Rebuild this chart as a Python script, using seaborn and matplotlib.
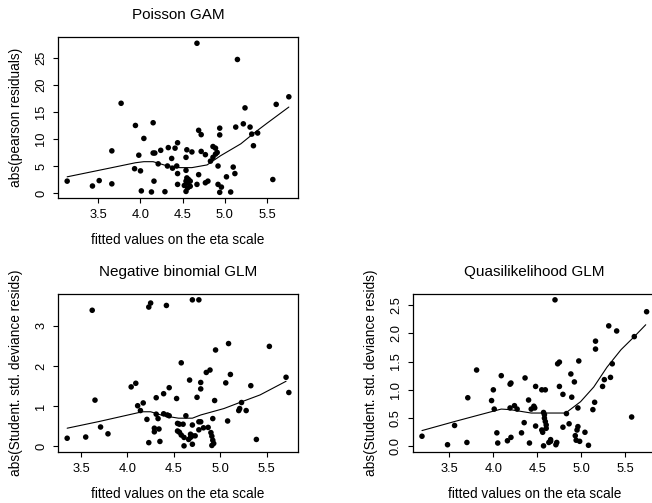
import matplotlib
matplotlib.use("Agg")
import matplotlib.pyplot as plt
import seaborn as sns
import pandas as pd

# ---------------- data ----------------
# Poisson GAM
pg_x = [3.13, 3.43, 3.51, 3.66, 3.66, 3.77, 3.94, 4.15, 4.04, 3.98, 3.93, 4.00, 4.01, 4.13, 4.29,
        4.15, 4.17, 4.16, 4.24, 4.21, 4.33, 4.37, 4.32, 4.38, 4.41, 4.44, 4.43, 4.44, 4.44,
        4.67, 5.15, 5.76, 5.61, 5.24, 5.22, 5.13, 5.30, 5.32, 5.39, 5.34, 4.94, 4.94, 4.69, 4.72,
        4.86, 4.89, 4.89, 4.91, 4.72, 4.77, 4.86, 4.83, 4.55, 4.61, 4.54, 4.54, 4.92, 5.10, 5.12,
        5.02, 4.92, 4.96, 4.94, 5.07, 4.69, 4.77, 4.80, 4.67, 5.57,
        4.55, 4.57, 4.59, 4.54, 4.56, 4.56, 4.59, 4.54, 4.52]
pg_y = [2.2, 1.3, 2.3, 7.8, 1.7, 16.6, 12.5, 13.0, 10.1, 7.0, 4.5, 4.1, 0.4, 0.2, 0.25,
        7.4, 7.4, 2.2, 7.9, 5.4, 8.4, 6.4, 5.0, 4.6, 8.3, 9.3, 5.0, 3.6, 1.6,
        27.7, 24.7, 17.8, 16.4, 15.75, 12.8, 12.2, 12.2, 10.9, 11.1, 8.75, 12.0, 10.75, 11.6, 10.8,
        8.6, 8.3, 7.2, 7.5, 7.7, 7.1, 6.6, 5.9, 8.0, 7.6, 6.6, 4.2, 5.0, 4.8, 3.6,
        3.0, 1.6, 1.1, 0.13, 0.19, 3.4, 1.9, 2.2, 1.6, 2.5,
        2.8, 2.5, 2.2, 2.2, 1.9, 0.95, 1.25, 0.3, 1.4]
pg_line_x = [3.13, 3.63, 3.94, 4.04, 4.15, 4.30, 4.46, 4.61, 4.79, 4.95, 5.19, 5.36, 5.50, 5.76]
pg_line_y = [3.0, 4.6, 5.6, 5.8, 5.8, 5.1, 4.7, 4.7, 5.2, 6.9, 9.1, 11.25, 12.9, 15.9]

# Negative binomial GLM
nb_x = [3.35, 3.55, 3.62, 3.65, 3.71, 3.79, 4.04, 4.09, 4.11, 4.17, 4.14, 4.21, 4.23,
        4.23, 4.25, 4.42, 4.31, 4.39, 4.45, 4.53, 4.31, 4.39, 4.43, 4.45, 4.33,
        4.29, 4.29, 4.34, 4.35, 4.54, 4.54,
        4.70, 4.77, 4.58, 4.67, 4.79, 4.79, 4.75, 4.85, 4.89, 4.95, 5.09, 5.11, 5.06, 4.94,
        5.33, 5.53, 5.71, 5.74, 5.23, 5.21, 5.20, 5.28, 5.08, 5.39, 4.63, 4.56, 4.60, 4.70,
        4.77, 4.79, 4.92, 4.82, 4.87, 4.56, 4.58, 4.61, 4.68, 4.68, 4.70, 4.73, 4.66, 4.77,
        4.90, 4.91, 4.92, 4.93, 4.91, 4.61, 4.70]
nb_y = [0.20, 0.23, 3.39, 1.15, 0.48, 0.31, 1.48, 1.57, 1.01, 1.08, 0.89, 0.67, 0.09,
        3.47, 3.57, 3.51, 1.21, 1.31, 1.46, 1.19, 0.80, 0.81, 0.78, 0.76, 0.69,
        0.45, 0.36, 0.43, 0.12, 0.57, 0.38,
        3.65, 3.65, 2.08, 1.65, 1.59, 1.43, 1.22, 1.84, 1.90, 2.40, 2.56, 1.79, 1.58, 1.14,
        1.51, 2.49, 1.72, 1.34, 1.09, 0.94, 0.89, 0.89, 0.63, 0.17, 0.76, 0.55, 0.55, 0.53,
        0.61, 0.61, 0.69, 0.46, 0.47, 0.35, 0.28, 0.22, 0.30, 0.22, 0.26, 0.26, 0.17, 0.41,
        0.34, 0.25, 0.15, 0.07, 0.02, 0.01, 0.05]
nb_line_x = [3.35, 3.70, 4.16, 4.25, 4.39, 4.55, 4.70, 4.79, 5.04, 5.21, 5.43, 5.71]
nb_line_y = [0.45, 0.62, 0.86, 0.86, 0.76, 0.70, 0.70, 0.78, 0.94, 1.09, 1.28, 1.62]

# Quasilikelihood GLM
ql_x = [3.19, 3.48, 3.56, 3.70, 3.71, 3.81, 3.98, 4.00, 4.01, 4.04, 4.05, 4.09, 4.19, 4.20,
        4.19, 4.20, 4.16, 4.24, 4.27, 4.32, 4.35, 4.36, 4.40, 4.41, 4.43,
        4.70, 5.74, 5.31, 5.40, 5.60, 5.16, 5.16, 4.97, 4.73, 4.75, 4.88, 4.92, 4.75, 4.79,
        4.89, 5.35, 5.26, 5.33, 5.24, 5.15, 5.13, 4.96, 5.57, 4.83, 4.48, 4.55, 4.59, 4.46,
        4.47, 4.57, 4.58, 4.58, 4.59, 4.60, 4.60, 4.48, 4.55, 4.56, 4.79, 4.86, 4.96, 4.95,
        4.93, 4.94, 5.04, 5.08, 4.65, 4.63, 4.65, 4.72, 4.71, 4.57, 4.98]
ql_y = [0.18, 0.03, 0.37, 0.07, 0.86, 1.35, 0.81, 1.00, 0.66, 0.24, 0.06, 1.25, 1.10, 1.12,
        0.68, 0.16, 0.10, 0.72, 0.66, 0.24, 0.42, 1.21, 0.82, 0.06, 0.66,
        2.59, 2.38, 2.13, 2.04, 1.94, 1.86, 1.72, 1.51, 1.46, 1.49, 1.28, 1.14, 1.06, 0.92,
        0.87, 1.46, 1.18, 1.22, 1.06, 0.78, 0.65, 0.68, 0.52, 0.58, 1.06, 1.00, 1.00, 0.71,
        0.68, 0.60, 0.56, 0.50, 0.44, 0.38, 0.32, 0.36, 0.29, 0.25, 0.34, 0.40, 0.35, 0.29,
        0.19, 0.11, 0.25, 0.02, 0.12, 0.07, 0.09, 0.07, 0.03, 0.01, 0.09]
ql_line_x = [3.19, 3.56, 3.80, 4.09, 4.19, 4.43, 4.57, 4.82, 4.88, 4.99, 5.14, 5.29, 5.45, 5.60, 5.73]
ql_line_y = [0.28, 0.44, 0.54, 0.66, 0.65, 0.59, 0.59, 0.59, 0.66, 0.79, 1.05, 1.40, 1.71, 1.94, 2.15]

x_ticks = [3.5, 4.0, 4.5, 5.0, 5.5]
x_tick_labels = ["3.5", "4.0", "4.5", "5.0", "5.5"]
pg_yticks = [0, 5, 10, 15, 20, 25]
pg_ytick_labels = ["0", "5", "10", "15", "20", "25"]
nb_yticks = [0, 1, 2, 3]
nb_ytick_labels = ["0", "1", "2", "3"]
ql_yticks = [0.0, 0.5, 1.0, 1.5, 2.0, 2.5]
ql_ytick_labels = ["0.0", "0.5", "1.0", "1.5", "2.0", "2.5"]

titles = ["Poisson GAM", "Negative binomial GLM", "Quasilikelihood GLM"]
xlabel = "fitted values on the eta scale"
ylabels = ["abs(pearson residuals)", "abs(Student. std. deviance resids)",
           "abs(Student. std. deviance resids)"]

# ---------------- style ----------------
sns.set_theme(style="white")
plt.rcParams["font.family"] = ["Liberation Sans", "DejaVu Sans"]

W, H = 652, 503
fig = plt.figure(figsize=(W / 100, H / 100), dpi=100)

# axes boxes in pixel coords (left, top, right, bottom)
boxes = [(58.3, 37.3, 297.7, 198.3),
         (58.3, 294.0, 297.7, 451.7),
         (413.0, 294.0, 655.6, 451.7)]

panels = [
    (pg_x, pg_y, pg_line_x, pg_line_y, pg_yticks, pg_ytick_labels),
    (nb_x, nb_y, nb_line_x, nb_line_y, nb_yticks, nb_ytick_labels),
    (ql_x, ql_y, ql_line_x, ql_line_y, ql_yticks, ql_ytick_labels),
]

for i, (box, panel) in enumerate(zip(boxes, panels)):
    l, t, r, b = box
    ax = fig.add_axes([l / W, 1 - b / H, (r - l) / W, (b - t) / H])
    ax_w, ax_h = r - l, b - t
    px, py, lx, ly, yt, ytl = panel
    df = pd.DataFrame({"x": px, "y": py})
    dl = pd.DataFrame({"x": lx, "y": ly})
    sns.scatterplot(data=df, x="x", y="y", ax=ax, color="black", s=16,
                    edgecolor="none", linewidth=0)
    sns.lineplot(data=dl, x="x", y="y", ax=ax, color="black", linewidth=0.8,
                 estimator=None, sort=True)
    # R-style 4% padding
    xr = max(px) - min(px)
    yr = max(py) - min(py)
    ax.set_xlim(min(px) - 0.04 * xr, max(px) + 0.04 * xr)
    ax.set_ylim(min(py) - 0.04 * yr, max(py) + 0.04 * yr)
    ax.set_xticks(x_ticks)
    ax.set_xticklabels(x_tick_labels)
    ax.set_yticks(yt)
    ax.set_yticklabels(ytl, rotation=90, va="center")
    ax.tick_params(axis="both", which="both", bottom=True, left=True, direction="out",
                   length=3.5, width=0.8, color="black", labelsize=9.3,
                   labelcolor="black", pad=4.5)
    for sp in ax.spines.values():
        sp.set_visible(True)
        sp.set_color("black")
        sp.set_linewidth(0.9)
    ax.set_xlabel(xlabel, fontsize=9.8, color="black", va="center")
    ax.xaxis.set_label_coords(0.5, -42 / ax_h)
    ax.set_ylabel(ylabels[i], fontsize=9.8, color="black", va="center")
    ax.yaxis.set_label_coords(-42 / ax_w, 0.5)
    ax.set_title(titles[i], fontsize=11, color="black", y=1 + 22 / ax_h, va="center", pad=0)

fig.savefig("out.png", dpi=100)
